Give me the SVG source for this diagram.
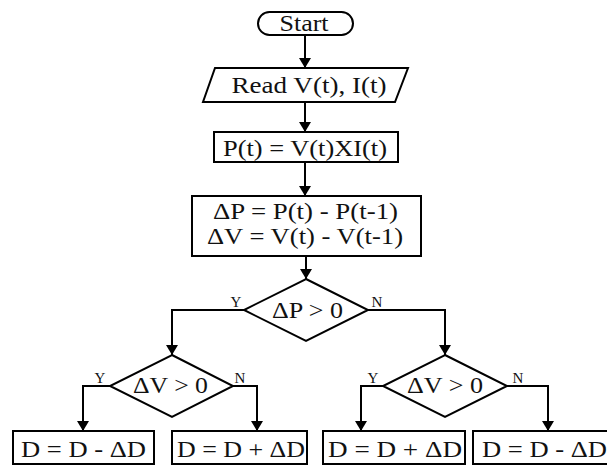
<svg xmlns="http://www.w3.org/2000/svg" width="607" height="466" viewBox="0 0 607 466">
<style>
.s{fill:#fff;stroke:#000;stroke-width:2}
.c{fill:none;stroke:#000;stroke-width:2}
.t{font-family:"Liberation Serif","Times New Roman",serif;font-size:22.5px;fill:#111;text-anchor:middle}
.l{font-family:"Liberation Serif","Times New Roman",serif;font-size:15px;fill:#111;text-anchor:middle}
</style>
<defs>
<marker id="a" markerWidth="10" markerHeight="12" refX="10" refY="6" orient="auto" markerUnits="userSpaceOnUse">
<path d="M0,0 L10,6 L0,12 Z" fill="#000"/>
</marker>
</defs>
<rect width="607" height="466" fill="#fff"/>
<g id="connectors">
<path class="c" d="M305,35 V68" marker-end="url(#a)"/>
<path class="c" d="M305,102 V132" marker-end="url(#a)"/>
<path class="c" d="M305,162 V196" marker-end="url(#a)"/>
<path class="c" d="M306,256 V279" marker-end="url(#a)"/>
<path class="c" d="M244,310 H172 V355" marker-end="url(#a)"/>
<path class="c" d="M368,310 H445 V355" marker-end="url(#a)"/>
<path class="c" d="M110,386 H83 V431" marker-end="url(#a)"/>
<path class="c" d="M233,386 H257 V431" marker-end="url(#a)"/>
<path class="c" d="M383,386 H361 V431" marker-end="url(#a)"/>
<path class="c" d="M507,386 H548 V431" marker-end="url(#a)"/>
<text class="l" x="236" y="307">Y</text>
<text class="l" x="377" y="307">N</text>
<text class="l" x="100" y="383">Y</text>
<text class="l" x="240" y="383">N</text>
<text class="l" x="373" y="383">Y</text>
<text class="l" x="518" y="383">N</text>
</g>
<g id="start">
<rect class="s" x="258" y="12" width="95" height="23" rx="11.5"/>
<text class="t" x="304" y="31" textLength="49" lengthAdjust="spacingAndGlyphs">Start</text>
</g>
<g id="read">
<polygon class="s" points="215,68 408,68 395,102 203,102"/>
<text class="t" x="309" y="93" textLength="155" lengthAdjust="spacingAndGlyphs">Read V(t), I(t)</text>
</g>
<g id="power">
<rect class="s" x="214" y="132" width="184" height="30"/>
<text class="t" x="305" y="156" textLength="164" lengthAdjust="spacingAndGlyphs">P(t) = V(t)XI(t)</text>
</g>
<g id="delta">
<rect class="s" x="192" y="196" width="229" height="60"/>
<text class="t" x="305.5" y="219" textLength="185" lengthAdjust="spacingAndGlyphs">ΔP = P(t) - P(t-1)</text>
<text class="t" x="305" y="244" textLength="196" lengthAdjust="spacingAndGlyphs">ΔV = V(t) - V(t-1)</text>
</g>
<g id="dp">
<polygon class="s" points="306,279 368,310 306,341 244,310"/>
<text class="t" x="307.5" y="318" textLength="71" lengthAdjust="spacingAndGlyphs">ΔP &gt; 0</text>
</g>
<g id="dvl">
<polygon class="s" points="172,355 233,386 172,417 110,386"/>
<text class="t" x="170.5" y="393" textLength="75" lengthAdjust="spacingAndGlyphs">ΔV &gt; 0</text>
</g>
<g id="dvr">
<polygon class="s" points="445,355 507,386 445,417 383,386"/>
<text class="t" x="445" y="393" textLength="76" lengthAdjust="spacingAndGlyphs">ΔV &gt; 0</text>
</g>
<g id="b1">
<rect class="s" x="13" y="431" width="141" height="33"/>
<text class="t" x="83.5" y="457" textLength="125" lengthAdjust="spacingAndGlyphs">D = D - ΔD</text>
</g>
<g id="b2">
<rect class="s" x="172" y="431" width="135" height="33"/>
<text class="t" x="241" y="457" textLength="128" lengthAdjust="spacingAndGlyphs">D = D + ΔD</text>
</g>
<g id="b3">
<rect class="s" x="323" y="431" width="142" height="33"/>
<text class="t" x="395" y="457" textLength="134" lengthAdjust="spacingAndGlyphs">D = D + ΔD</text>
</g>
<g id="b4">
<rect class="s" x="473" y="431" width="140" height="33"/>
<text class="t" x="544.5" y="457" textLength="125" lengthAdjust="spacingAndGlyphs">D = D - ΔD</text>
</g>
</svg>
